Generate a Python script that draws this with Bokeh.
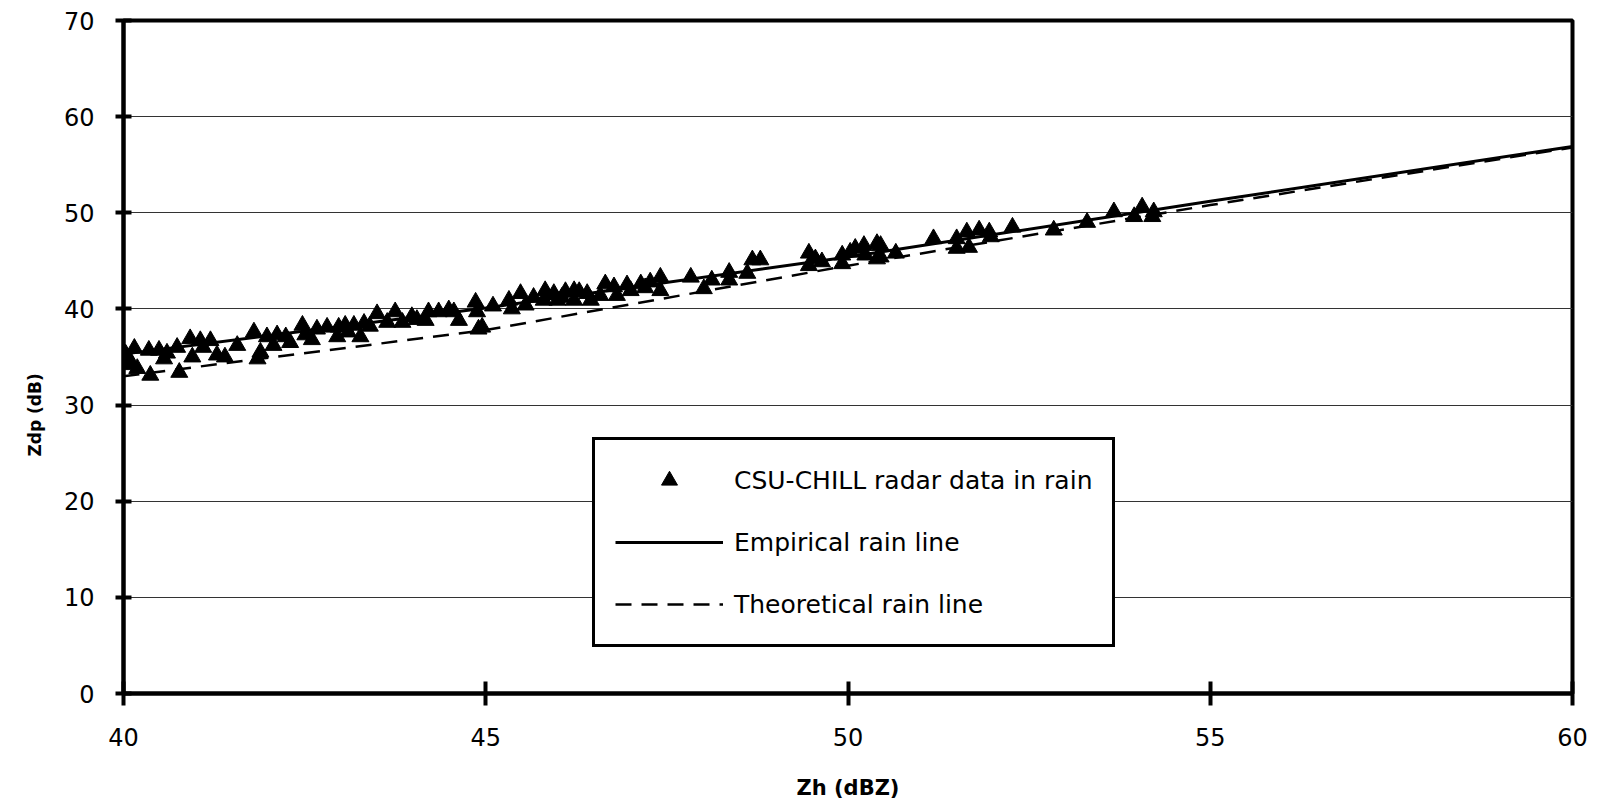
from bokeh.plotting import figure
from bokeh.models import Legend, LegendItem, Title, FixedTicker, Range1d
from bokeh.embed import file_html
from bokeh.resources import INLINE

# ---- data ----
zh_pts = [40.03, 40.10, 40.19, 40.37, 40.35, 40.49, 40.56, 40.77, 40.74, 40.92,
          40.95, 41.06, 41.20, 41.29, 41.57, 41.80, 41.85, 41.89, 41.98, 42.12,
          42.24, 42.07, 42.47, 42.51, 42.67, 42.81, 42.95, 42.97, 43.06, 43.18,
          43.27, 43.32, 43.50, 43.64, 43.75, 43.85, 43.98, 44.21, 44.17, 44.35,
          44.49, 44.56, 44.63, 44.86, 44.88, 44.90,
          44.95, 45.32, 45.36, 45.48, 45.66, 45.82, 45.80, 45.94, 45.99, 46.10,
          46.22, 46.29, 46.22, 46.45, 46.58, 46.65, 46.77, 46.81, 46.95, 47.00,
          47.14, 47.27, 47.41, 47.41, 47.83, 48.01, 48.12, 48.36, 48.36, 48.61,
          48.68, 48.79, 49.46, 49.46, 49.64, 49.92, 49.92, 50.03, 50.22, 50.24,
          50.40, 50.40,
          50.45, 50.45, 50.66, 51.18, 51.50, 51.50, 51.64, 51.67, 51.81, 51.95,
          51.97, 52.27, 52.84, 53.30, 53.67, 53.95, 54.06, 54.22, 54.20,
          40.05, 40.15, 40.60, 41.10, 41.40, 42.30, 42.60, 43.10, 43.40, 44.05,
          45.10, 45.55, 46.05, 46.40, 47.20, 49.55, 50.10]
zdp_pts = [35.3, 34.5, 33.8, 33.1, 35.7, 35.7, 34.8, 33.4, 36.0, 36.9,
           35.0, 36.7, 36.7, 35.2, 36.2, 37.6, 34.8, 35.5, 37.1, 37.3,
           37.1, 36.2, 38.3, 37.3, 37.9, 38.1, 37.1, 38.1, 38.3, 38.3,
           37.1, 38.5, 39.5, 38.6, 39.7, 38.6, 39.2, 39.7, 38.8, 39.7,
           39.9, 39.7, 38.8, 40.7, 39.7, 37.9,
           38.1, 40.9, 40.0, 41.6, 41.2, 41.9, 40.9, 41.6, 40.9, 41.8,
           41.9, 41.8, 40.9, 40.9, 41.4, 42.6, 42.3, 41.4, 42.5, 41.9,
           42.6, 42.8, 43.3, 41.9, 43.3, 42.1, 43.0, 43.8, 43.0, 43.7,
           45.1, 45.1, 45.8, 44.5, 44.9, 45.6, 44.7, 45.9, 46.6, 45.6,
           46.8, 45.2,
           46.6, 45.4, 45.8, 47.3, 47.3, 46.3, 48.0, 46.4, 48.2, 48.0,
           47.5, 48.5, 48.2, 49.0, 50.1, 49.6, 50.6, 50.1, 49.6,
           34.2, 35.9, 35.4, 36.0, 35.0, 36.5, 36.8, 37.6, 38.2, 38.9,
           40.3, 40.4, 41.2, 41.6, 42.2, 45.2, 46.3]

line_zh = [40, 45, 50, 55, 60]
empirical_zdp = [35.3, 40.1, 45.4, 51.2, 56.9]
theoretical_zdp = [33.0, 37.8, 44.5, 50.8, 56.8]

y_ticks = [0, 10, 20, 30, 40, 50, 60, 70]
x_ticks = [40, 45, 50, 55, 60]

FONT = "DejaVu Sans"

p = figure(width=1605, height=802, output_backend="svg", toolbar_location=None,
           x_range=Range1d(40, 60), y_range=Range1d(0, 70),
           min_border_left=123, min_border_right=33, min_border_top=20,
           min_border_bottom=109)
p.background_fill_color = "white"
p.border_fill_color = "white"
p.outline_line_color = "black"
p.outline_line_width = 4
p.outline_line_alpha = 1

p.xgrid.grid_line_color = None
p.ygrid.grid_line_color = "#333333"
p.ygrid.grid_line_width = 1
p.ygrid.ticker = FixedTicker(ticks=y_ticks)

p.xaxis.ticker = FixedTicker(ticks=x_ticks)
p.yaxis.ticker = FixedTicker(ticks=y_ticks)
for ax in (p.xaxis[0], p.yaxis[0]):
    ax.axis_line_width = 4
    ax.axis_line_color = "black"
    ax.major_tick_line_width = 4
    ax.major_tick_line_color = "black"
    ax.minor_tick_line_color = None
    ax.major_label_text_font = FONT
    ax.major_label_text_font_size = "24px"
    ax.major_label_text_color = "black"
p.xaxis.major_tick_in = 12
p.xaxis.major_tick_out = 12
p.xaxis.major_label_standoff = 22
p.yaxis.major_tick_in = 8
p.yaxis.major_tick_out = 8
p.yaxis.major_label_standoff = 21

p.xaxis.axis_label = "Zh (dBZ)"
p.xaxis.axis_label_text_font = FONT
p.xaxis.axis_label_text_font_size = "21px"
p.xaxis.axis_label_text_font_style = "bold"
p.xaxis.axis_label_text_color = "black"
p.xaxis.axis_label_standoff = 27

ytitle = Title(text="Zdp (dB)", align="left", offset=237, standoff=32,
               text_font=FONT, text_font_size="17px", text_font_style="bold",
               text_color="black")
p.add_layout(ytitle, "left")

r_emp = p.line(line_zh, empirical_zdp, line_color="black", line_width=3)
r_th = p.line(line_zh, theoretical_zdp, line_color="black", line_width=2.5,
              line_dash="16 10")
r_pts = p.scatter(zh_pts, zdp_pts, marker="triangle", size=17,
                  fill_color="black", line_color="black")

legend = Legend(items=[
    LegendItem(label="CSU-CHILL radar data in rain", renderers=[r_pts]),
    LegendItem(label="Empirical rain line", renderers=[r_emp]),
    LegendItem(label="Theoretical rain line", renderers=[r_th]),
], location=(469, 46))
legend.border_line_color = "black"
legend.border_line_alpha = 1
legend.border_line_width = 3
legend.background_fill_color = "white"
legend.background_fill_alpha = 1
legend.label_text_font = FONT
legend.label_text_font_size = "25px"
legend.label_text_color = "black"
legend.glyph_width = 108
legend.glyph_height = 40
legend.label_height = 40
legend.spacing = 22
legend.padding = 20
legend.margin = 0
legend.label_standoff = 11
p.add_layout(legend, "center")

open("out.html", "w").write(file_html(p, INLINE))
